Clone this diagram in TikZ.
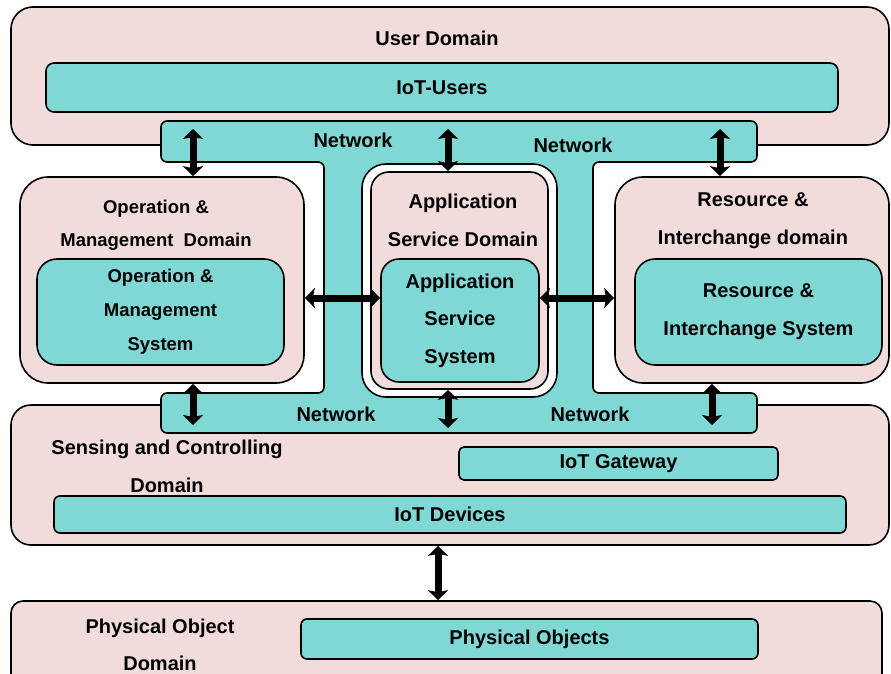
\documentclass[tikz,border=0pt]{standalone}
\usepackage{fontspec}
\setmainfont{Liberation Sans}
\usepackage{tikz}
\usetikzlibrary{arrows.meta,shapes,positioning}
\definecolor{domainpink}{HTML}{F2DCDB}
\definecolor{systeal}{HTML}{80D8D5}
\tikzset{
  domainbox/.style={draw=black, line width=1.6pt, fill=domainpink, rectangle, inner sep=0pt},
  sysbox/.style={draw=black, line width=1.6pt, fill=systeal, rectangle, inner sep=0pt, align=center, font=\fontsize{20}{38}\selectfont\bfseries},
  titletext/.style={align=center, inner sep=0pt, font=\fontsize{20}{38}\selectfont\bfseries},
  netlabel/.style={inner sep=0pt, font=\fontsize{20}{24}\selectfont\bfseries},
  biarrow/.style={<->, >={Stealth[length=10pt,width=20pt,inset=2pt]}, line width=7pt, black}
}

\begin{document}
\begin{tikzpicture}[x=1pt, y=-1pt]
        \clip (0,0) rectangle (891,674);
        % User domain on top
        \node[domainbox, rounded corners=22pt, minimum width=878pt, minimum height=138pt] (userdom) at (450,76) {};
        \node[titletext] (usertitle) at (437,38) {User Domain};
        \node[sysbox, rounded corners=8pt, minimum width=792pt, minimum height=49pt] (iotusers) at (442,87.5) {IoT-Users};

        % Sensing and controlling domain
        \node[domainbox, rounded corners=20pt, minimum width=878pt, minimum height=140pt] (sensdom) at (450,475) {};

        % Network band (I-shape)
        \draw[line width=1.6pt, fill=systeal, rounded corners=6pt]
            (161,121) -- (757,121) -- (757,162) -- (593,162) -- (593,393) -- (757,393)
            -- (757,433) -- (161,433) -- (161,393) -- (324,393) -- (324,162) -- (161,162) -- cycle;
        \node[netlabel] (net1) at (353,140) {Network};
        \node[netlabel] (net2) at (573,145) {Network};
        \node[netlabel] (net3) at (336,414) {Network};
        \node[netlabel] (net4) at (590,414) {Network};

        % Operation & Management domain
        \node[domainbox, rounded corners=28pt, minimum width=284pt, minimum height=206pt] (opdom) at (162,280) {};
        \node[titletext, font=\fontsize{18.5}{33}\selectfont\bfseries] (optitle) at (156,225.5) {Operation \&\\Management\ \ Domain};
        \node[sysbox, rounded corners=20pt, minimum width=247pt, minimum height=106pt, font=\fontsize{18.5}{34}\selectfont\bfseries] (opsys) at (160.5,312) {Operation \&\\Management\\System};

        % Resource & Interchange domain
        \node[domainbox, rounded corners=28pt, minimum width=274pt, minimum height=206pt] (resdom) at (752,280) {};
        \node[titletext] (restitle) at (753,221) {Resource \&\\Interchange domain};
        \node[sysbox, rounded corners=20pt, minimum width=247pt, minimum height=106pt] (ressys) at (758.5,312) {Resource \&\\Interchange System};

        % Application service domain (double border)
        \node[draw=black, line width=1.6pt, fill=white, rounded corners=24pt, minimum width=195pt, minimum height=233pt] (appouter) at (459.5,280.5) {};
        \node[domainbox, rounded corners=18pt, minimum width=177pt, minimum height=217pt] (appdom) at (459.5,280.5) {};
        \node[titletext] (apptitle) at (463,220.5) {Application\\Service Domain};
        \node[sysbox, rounded corners=18pt, minimum width=158pt, minimum height=123pt, font=\fontsize{20}{37.5}\selectfont\bfseries] (appsys) at (460,320.5) {Application\\Service\\System};

        % Sensing domain contents
        \node[titletext] (senstitle) at (167,466.5) {Sensing and Controlling\\Domain};
        \node[sysbox, rounded corners=5pt, minimum width=319pt, minimum height=33pt] (gateway) at (618.5,463.5) {IoT Gateway};
        \node[sysbox, rounded corners=6pt, minimum width=792pt, minimum height=37pt] (devices) at (450,514.5) {IoT Devices};

        % Physical object domain
        \node[domainbox, rounded corners=12pt, minimum width=871pt, minimum height=99pt] (physdom) at (446.5,650.5) {};
        \node[titletext, font=\fontsize{20}{37}\selectfont\bfseries] (phystitle) at (160,644.5) {Physical Object\\Domain};
        \node[sysbox, rounded corners=6pt, minimum width=457pt, minimum height=40pt] (physobj) at (529.5,639) {Physical Objects};

        % Arrow end points inside the network band
        \coordinate (ntop1) at (193,129);
        \coordinate (ntop2) at (448,129);
        \coordinate (ntop3) at (720,129);
        \coordinate (nbot1) at (193,425);
        \coordinate (nbot2) at (448,428);
        \coordinate (nbot3) at (712,425);
        \coordinate (midrow) at (0,298);
        \coordinate (linkcol) at (438,0);

        % Connections
        \draw[biarrow] (ntop1) -- (ntop1 |- opdom.north);
        \draw[biarrow] (ntop2) -- (ntop2 |- appdom.north);
        \draw[biarrow] (ntop3) -- (ntop3 |- resdom.north);
        \draw[biarrow] (opdom.east |- midrow) -- (appsys.west |- midrow);
        \draw[biarrow] (appsys.east |- midrow) -- (resdom.west |- midrow);
        \draw[biarrow] (nbot1 |- opdom.south) -- (nbot1);
        \draw[biarrow] (nbot2 |- appdom.south) -- (nbot2);
        \draw[biarrow] (nbot3 |- resdom.south) -- (nbot3);
        \draw[biarrow] (linkcol |- sensdom.south) -- (linkcol |- physdom.north);
    \end{tikzpicture}
\end{document}
